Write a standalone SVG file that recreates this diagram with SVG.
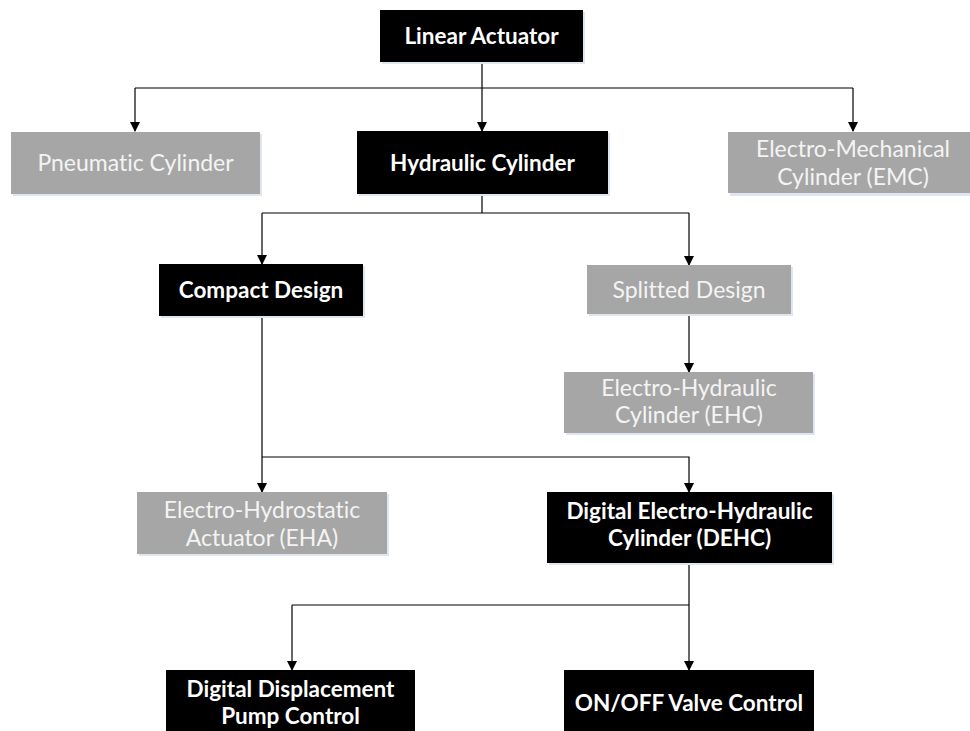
<svg xmlns="http://www.w3.org/2000/svg" width="970" height="731" viewBox="0 0 970 731">
<style>
.dark{fill:#000}
.gray{fill:#a6a6a6}
.sh{fill:#dfe6ef}
.tb{font-family:Lato,"Open Sans",sans-serif;font-weight:bold;font-size:22.5px;fill:#fff;text-anchor:middle;font-variant-ligatures:none}
.tg{font-family:Lato,"Open Sans",sans-serif;font-size:23px;fill:#f4f4f4;text-anchor:middle;font-variant-ligatures:none}
.ln{fill:none;stroke:#000;stroke-width:1.2}
</style>
<defs>
<marker id="ah" markerWidth="10" markerHeight="10" refX="9" refY="5" orient="auto" markerUnits="userSpaceOnUse">
<path d="M0,0 L10,5 L0,10 Z" fill="#000"/>
</marker>
</defs>
<rect width="970" height="731" fill="#fff"/>
<g id="connectors">
<path class="ln" d="M482,62 V131" marker-end="url(#ah)"/>
<path class="ln" d="M135,88 H853"/>
<path class="ln" d="M135,88 V131" marker-end="url(#ah)"/>
<path class="ln" d="M853,88 V131" marker-end="url(#ah)"/>
<path class="ln" d="M482,194 V213"/>
<path class="ln" d="M262,213 H689"/>
<path class="ln" d="M262,213 V264" marker-end="url(#ah)"/>
<path class="ln" d="M689,213 V265" marker-end="url(#ah)"/>
<path class="ln" d="M689,314 V372" marker-end="url(#ah)"/>
<path class="ln" d="M262,316 V492" marker-end="url(#ah)"/>
<path class="ln" d="M262,457 H689 V492" marker-end="url(#ah)"/>
<path class="ln" d="M689,563 V670" marker-end="url(#ah)"/>
<path class="ln" d="M292,605 H689"/>
<path class="ln" d="M292,605 V670" marker-end="url(#ah)"/>
</g>
<g id="linear-actuator">
<rect class="sh" x="382" y="12" width="203" height="52"/>
<rect class="dark" x="380" y="10" width="203" height="52"/>
<text class="tb" x="481.5" y="44">Linear Actuator</text>
</g>
<g id="pneumatic-cylinder">
<rect class="sh" x="13" y="134" width="249" height="62"/>
<rect class="gray" x="11" y="132" width="249" height="62"/>
<text class="tg" x="135.5" y="171">Pneumatic Cylinder</text>
</g>
<g id="hydraulic-cylinder">
<rect class="sh" x="359" y="133" width="251" height="63"/>
<rect class="dark" x="357" y="131" width="251" height="63"/>
<text class="tb" x="482.5" y="171">Hydraulic Cylinder</text>
</g>
<g id="emc">
<rect class="sh" x="730" y="134" width="250" height="62"/>
<rect class="gray" x="728" y="132" width="250" height="61"/>
<text class="tg" x="853" y="157">Electro-Mechanical</text>
<text class="tg" x="853" y="185">Cylinder (EMC)</text>
</g>
<g id="compact-design">
<rect class="sh" x="161" y="266" width="204" height="52"/>
<rect class="dark" x="159" y="264" width="204" height="52"/>
<text class="tb" x="261" y="298">Compact Design</text>
</g>
<g id="splitted-design">
<rect class="sh" x="589" y="267" width="204" height="49"/>
<rect class="gray" x="587" y="265" width="204" height="49"/>
<text class="tg" x="689" y="298">Splitted Design</text>
</g>
<g id="ehc">
<rect class="sh" x="566" y="374" width="249" height="61"/>
<rect class="gray" x="564" y="372" width="249" height="61"/>
<text class="tg" x="689" y="396">Electro-Hydraulic</text>
<text class="tg" x="689" y="423">Cylinder (EHC)</text>
</g>
<g id="eha">
<rect class="sh" x="139" y="494" width="250" height="62"/>
<rect class="gray" x="137" y="492" width="250" height="62"/>
<text class="tg" x="262" y="518">Electro-Hydrostatic</text>
<text class="tg" x="262" y="546">Actuator (EHA)</text>
</g>
<g id="dehc">
<rect class="sh" x="549" y="494" width="285" height="71"/>
<rect class="dark" x="547" y="492" width="285" height="71"/>
<text class="tb" x="689.5" y="519">Digital Electro-Hydraulic</text>
<text class="tb" x="689.5" y="546">Cylinder (DEHC)</text>
</g>
<g id="ddpc">
<rect class="dark" x="166" y="670" width="249" height="70"/>
<text class="tb" x="290.5" y="697">Digital Displacement</text>
<text class="tb" x="290.5" y="724">Pump Control</text>
</g>
<g id="onoff">
<rect class="dark" x="564" y="670" width="250" height="70"/>
<text class="tb" x="689" y="711">ON/OFF Valve Control</text>
</g>
</svg>
